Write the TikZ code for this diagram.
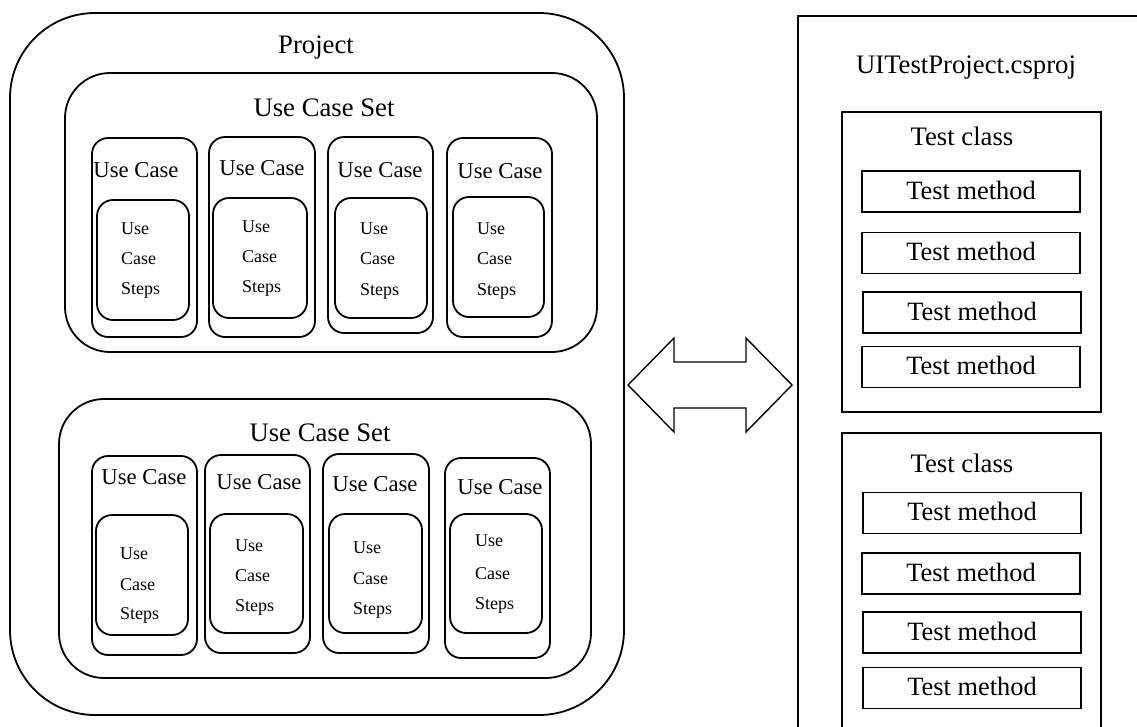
\documentclass[tikz,border=0pt]{standalone}
\usepackage{fontspec}
\setmainfont{Liberation Serif}
\usetikzlibrary{fit}
\begin{document}
\begin{tikzpicture}[x=1pt,y=-1pt,
  frame/.style={draw=black, line width=1.8pt, inner sep=0pt},
  projbox/.style={frame, rounded corners=85pt},
  setbox/.style={frame, rounded corners=45pt},
  ucbox/.style={frame, rounded corners=16pt},
  stepbox/.style={frame, rounded corners=16pt},
  plainbox/.style={frame, sharp corners},
  big/.style={font=\fontsize{26.7}{32}\selectfont, inner sep=0pt, anchor=base},
  uclabel/.style={font=\fontsize{22.7}{27}\selectfont, inner sep=0pt, anchor=base},
  steplabel/.style={font=\fontsize{18}{22}\selectfont, inner sep=0pt, anchor=base west},
  methodbox/.style={plainbox, minimum width=218pt, minimum height=41pt,
    font=\fontsize{26.4}{32}\selectfont, text depth=3pt},
  twoway/.style={draw=black, line width=1.4pt, line join=miter}
]
\useasboundingbox (0,0) rectangle (1137,726);

% project with its two use case sets
\node[projbox, fit={(10,13) (624,715)}] (project) {};
\node[big] (projlabel) at (316,53) {Project};
\node[setbox, fit={(65,73) (597,352)}] (set1) {};
\node[big] (set1label) at (324,116) {Use Case Set};
\node[setbox, fit={(59,399) (591,678)}] (set2) {};
\node[big] (set2label) at (320,441) {Use Case Set};

% use cases: outer box, inner steps box, title and step lines
\foreach \nm/\xa/\ya/\xb/\yb/\xc/\yc/\xd/\yd/\lx/\ly/\sx/\sya/\syb/\syc in {
  t1/92/138/197/337/97/200/189/320/136/177/121/234/264/294,
  t2/209/137/315/337/213/198/307/318/262/175/242/232/262/292,
  t3/328/137/433/333/335/198/427/318/380/177/360/234/264/295,
  t4/447/138/552/337/453/197/544/317/500/178/477/234/264/295,
  b1/92/456/197/655/96/515/188/635/144/484/120/559/590/619,
  b2/205/455/310/653/210/514/303/633/259/489/235/551/581/611,
  b3/323/454/429/653/329/514/422/633/375/491/353/553/584/614,
  b4/445/458/550/658/450/514/542/633/500/494/475/546/579/609}{
  \node[ucbox, fit={(\xa,\ya) (\xb,\yb)}] (uc\nm) {};
  \node[stepbox, fit={(\xc,\yc) (\xd,\yd)}] (st\nm) {};
  \node[uclabel] (ucl\nm) at (\lx,\ly) {Use Case};
  \node[steplabel] (sa\nm) at (\sx,\sya) {Use};
  \node[steplabel] (sb\nm) at (\sx,\syb) {Case};
  \node[steplabel] (sc\nm) at (\sx,\syc) {Steps};
}

% two-way block arrow between the project and the test project
\coordinate (lt) at (628,385);
\coordinate (rt) at (792,385);
\draw[twoway] (lt) -- (674,338) -- (674,362) -- (746,362) -- (746,338)
  -- (rt) -- (746,432) -- (746,408) -- (674,408) -- (674,432) -- cycle;

% test project with its test classes
\begin{scope}
  \clip (0,0) rectangle (1137,726);
  \node[plainbox, fit={(798,16) (1170,770)}] (testproj) {};
  \node[plainbox, fit={(842,433) (1101,770)}] (cls2) {};
\end{scope}
\node[big] (csproj) at (966,73) {UITestProject.csproj};
\node[plainbox, fit={(842,112) (1101,412)}] (cls1) {};
\node[big] (cls1label) at (962,145) {Test class};
\node[big] (cls2label) at (962,472) {Test class};

\node[methodbox] (m1) at (971,191.5) {Test method};
\node[methodbox] (m2) at (971,253) {Test method};
\node[methodbox] (m3) at (972,312.5) {Test method};
\node[methodbox] (m4) at (971,367) {Test method};
\node[methodbox] (m5) at (972,513) {Test method};
\node[methodbox] (m6) at (971,573.5) {Test method};
\node[methodbox] (m7) at (972,632.5) {Test method};
\node[methodbox] (m8) at (972,688) {Test method};
\end{tikzpicture}
\end{document}
